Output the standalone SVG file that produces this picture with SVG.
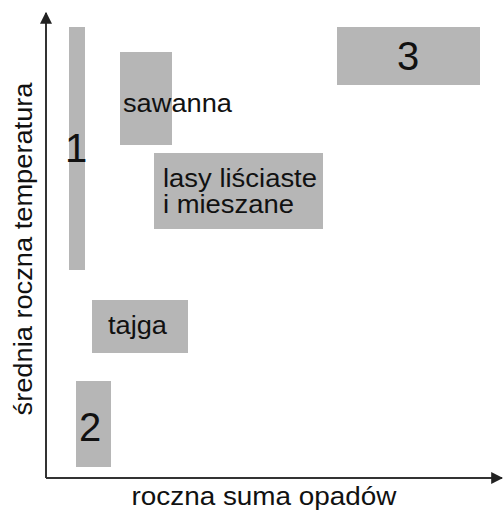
<svg xmlns="http://www.w3.org/2000/svg" width="504" height="511" viewBox="0 0 504 511">
<defs>
<style>
.box{fill:#b6b6b6;}
.t{font-family:"Liberation Sans",Arial,sans-serif;fill:#111;}
.s{font-size:25px;}
.d{font-size:40px;}
.ax{stroke:#333;stroke-width:2;fill:none;}
</style>
<marker id="ah" viewBox="0 0 10 10" refX="9" refY="5" markerWidth="6" markerHeight="6" orient="auto" markerUnits="strokeWidth">
<path d="M0,0 L10,5 L0,10 z" fill="#222"/>
</marker>
</defs>
<rect width="504" height="511" fill="#fff"/>
<g id="connectors">
<path class="ax" d="M46,478 L46,13" marker-end="url(#ah)"/>
<path class="ax" d="M46,478 L502,478" marker-end="url(#ah)"/>
</g>
<g id="n1"><rect class="box" x="69" y="27" width="16" height="243"/><text class="t d" x="76" y="162" text-anchor="middle">1</text></g>
<g id="sawanna"><rect class="box" x="120" y="52" width="52" height="93"/><text class="t s" x="123" y="112" textLength="109" lengthAdjust="spacingAndGlyphs">sawanna</text></g>
<g id="lasy"><rect class="box" x="154" y="153" width="169" height="76"/><text class="t s" x="163" y="187" textLength="154" lengthAdjust="spacingAndGlyphs">lasy liściaste</text><text class="t s" x="163" y="213" textLength="131" lengthAdjust="spacingAndGlyphs">i mieszane</text></g>
<g id="n3"><rect class="box" x="337" y="27" width="143" height="58"/><text class="t d" x="408" y="70" text-anchor="middle">3</text></g>
<g id="tajga"><rect class="box" x="92" y="300" width="96" height="53"/><text class="t s" x="108" y="334" textLength="59" lengthAdjust="spacingAndGlyphs">tajga</text></g>
<g id="n2"><rect class="box" x="76" y="381" width="35" height="86"/><text class="t d" x="90" y="441" text-anchor="middle">2</text></g>
<text class="t s" x="264" y="505" text-anchor="middle" textLength="265" lengthAdjust="spacingAndGlyphs">roczna suma opadów</text>
<text class="t s" transform="translate(32,249) rotate(-90)" x="0" y="0" text-anchor="middle" textLength="333" lengthAdjust="spacingAndGlyphs">średnia roczna temperatura</text>
</svg>
